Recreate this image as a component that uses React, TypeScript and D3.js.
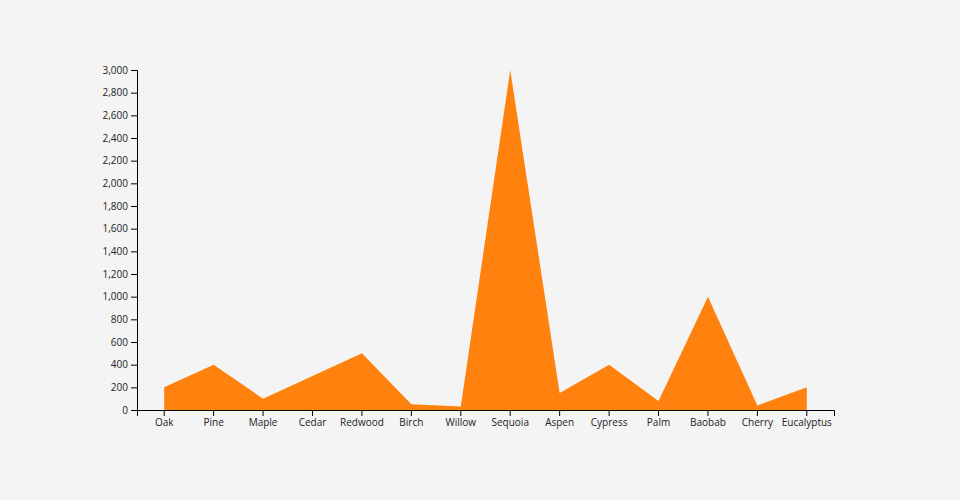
import { useEffect, useRef } from "react";
import * as d3 from "d3";

const trees = ["Oak", "Pine", "Maple", "Cedar", "Redwood", "Birch", "Willow", "Sequoia", "Aspen", "Cypress", "Palm", "Baobab", "Cherry", "Eucalyptus"];
const heights = [200, 400, 100, 300, 500, 50, 30, 3000, 150, 400, 80, 1000, 40, 200];
const yTicks = d3.range(0, 3001, 200);

export default function App() {
  const ref = useRef<SVGSVGElement>(null);

  useEffect(() => {
    document.body.style.margin = "0";
    if (!ref.current) return;
    const width = 960;
    const height = 500;
    const margin = { top: 70, right: 126, bottom: 90, left: 137 };

    const svg = d3.select(ref.current);
    svg.selectAll("*").remove();

    svg.append("rect").attr("width", width).attr("height", height).attr("fill", "#f4f4f4");

    const x = d3.scaleBand<string>()
      .domain(trees)
      .range([margin.left, width - margin.right])
      .padding(0.1);
    const y = d3.scaleLinear().domain([0, 3000]).range([height - margin.bottom, margin.top]);

    const data = trees.map((t, i) => ({ t, v: heights[i] }));

    const area = d3.area<{ t: string; v: number }>()
      .x((d) => x(d.t)! + x.bandwidth() / 2)
      .y0(y(0))
      .y1((d) => y(d.v));

    svg.append("path").datum(data).attr("d", area).attr("fill", "#ff820f");

    const xAxis = svg.append("g")
      .attr("transform", `translate(0,${height - margin.bottom})`)
      .call(d3.axisBottom(x));
    const yAxis = svg.append("g")
      .attr("transform", `translate(${margin.left},0)`)
      .call(d3.axisLeft(y).tickValues(yTicks).tickFormat(d3.format(",")));

    [xAxis, yAxis].forEach((g) => {
      g.selectAll("text").attr("font-family", "'Open Sans', 'Noto Sans', sans-serif").attr("font-size", 10).attr("fill", "#222");
      g.selectAll("line,path").attr("stroke", "#000");
    });
  }, []);

  return <svg ref={ref} width={960} height={500} style={{ display: "block" }} />;
}
